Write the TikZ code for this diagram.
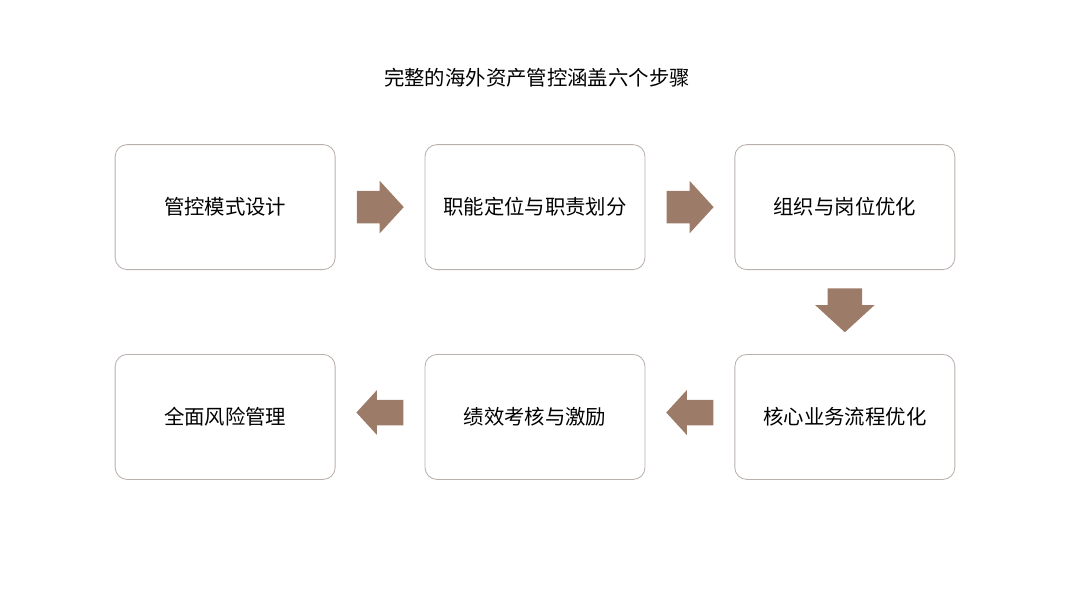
\documentclass[tikz,border=0pt]{standalone}
\usepackage{fontspec}
\setmainfont{Noto Sans CJK SC}
\usetikzlibrary{matrix,shapes.arrows,positioning,calc}
\definecolor{arrowbrown}{RGB}{156,124,104}
\definecolor{boxline}{RGB}{185,176,172}
\tikzset{
    stepbox/.style={rectangle, rounded corners=0.3cm, draw=boxline, line width=0.6pt, fill=white, font=\fontsize{14.5}{17}\selectfont, minimum width=5.5cm, minimum height=3.125cm},
    steparrow/.style={single arrow, fill=arrowbrown, draw=none, anchor=tail, inner xsep=0pt, inner ysep=0.4cm, minimum height=1.175cm, single arrow head extend=0.25cm, single arrow tip angle=95},
    backarrow/.style={steparrow, shape border rotate=180, inner ysep=0.3125cm, single arrow head extend=0.24cm},
    downarrow/.style={steparrow, shape border rotate=270, inner xsep=0.425cm, inner ysep=0pt, minimum height=1.1cm, single arrow head extend=0.31cm}
}

\begin{document}
\begin{tikzpicture}
\useasboundingbox (0,0) rectangle (27,-15.2);

% title
\node[font=\fontsize{14.5}{17}\selectfont] (title) at (13.425,-1.95) {完整的海外资产管控涵盖六个步骤};

\matrix[column sep=2.225cm, row sep=2.1cm] (m) at (13.375,-7.8) {
  % Row 1: steps 1-3
  \node[stepbox] (s1) {管控模式设计}; & \node[stepbox] (s2) {职能定位与职责划分}; & \node[stepbox] (s3) {组织与岗位优化}; \\
  % Row 2: steps 6-4
  \node[stepbox] (s6) {全面风险管理}; & \node[stepbox] (s5) {绩效考核与激励}; & \node[stepbox] (s4) {核心业务流程优化}; \\
};

% ----------------------------
% Arrows between steps
% ----------------------------
\node[steparrow] (a12) at ($(s1.east)!0.5!(s2.west)+(-0.59,0)$) {};
\node[steparrow] (a23) at ($(s2.east)!0.5!(s3.west)+(-0.59,0)$) {};
\node[downarrow] (a34) at ($(s3.south)!0.5!(s4.north)+(0,0.6)$) {};
\node[backarrow] (a45) at ($(s4.west)!0.5!(s5.east)+(0.59,0.11)$) {};
\node[backarrow] (a56) at ($(s5.west)!0.5!(s6.east)+(0.59,0.11)$) {};

\end{tikzpicture}
\end{document}
